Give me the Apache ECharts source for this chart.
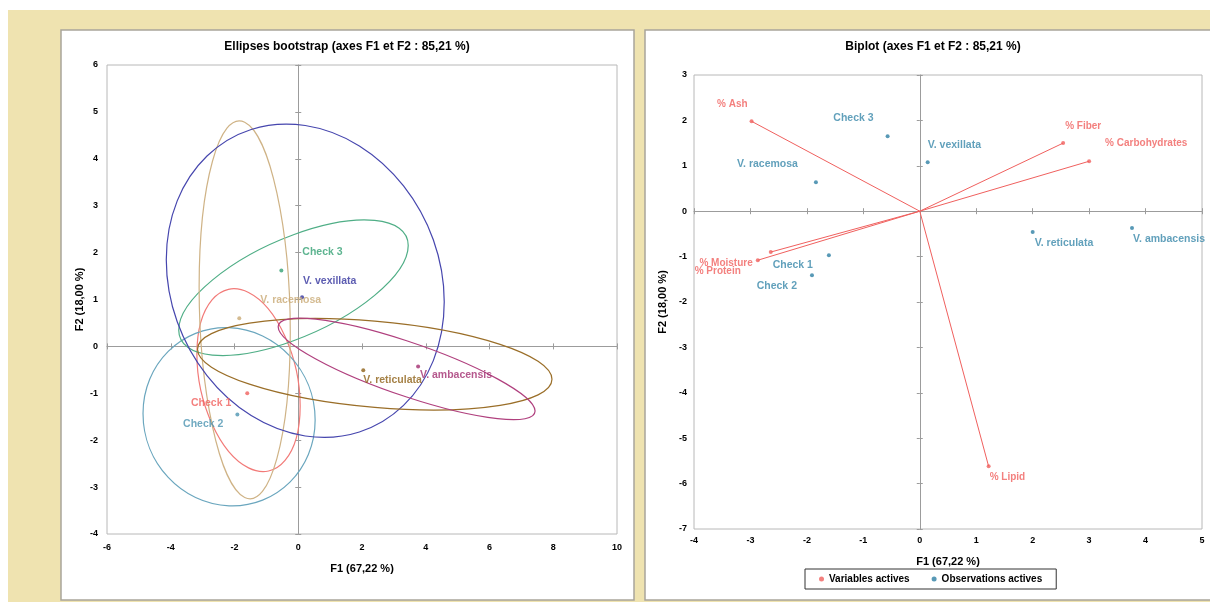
<!DOCTYPE html>
<html><head><meta charset="utf-8">
<script src="https://cdn.jsdelivr.net/npm/echarts@6/dist/echarts.min.js"></script>
<style>html,body{margin:0;padding:0;background:#fff}#c{width:1210px;height:602px}</style>
</head><body><div id="c"></div>
<script>
// ================= DATA =================
const obsNames = ['Check 1','Check 2','Check 3','V. racemosa','V. vexillata','V. reticulata','V. ambacensis'];
// bootstrap centres (left chart)
const bootF1 = [-1.60,-1.91,-0.53,-1.85,0.12,2.04,3.76];
const bootF2 = [-1.00,-1.45,1.62,0.60,1.05,-0.51,-0.43];
// bootstrap ellipses:
// centre, right-most point of the outline, and the outline's upper crossing of the vertical through the centre
const ellCentre = [[-1.56,-0.72],[-2.17,-1.50],[-0.15,1.25],[-1.68,0.78],[0.22,1.40],[2.40,-0.38],[3.40,-0.48]];
const ellRight  = [[0.06,-1.27],[0.53,-1.57],[3.45,2.15],[-0.25,0.30],[4.58,0.95],[7.96,-0.70],[7.43,-1.38]];
const ellTop    = [[-1.56,1.15],[-2.17,0.40],[-0.15,2.38],[-1.68,4.78],[0.22,4.71],[2.40,0.54],[3.40,0.12]];

// biplot observations
const biObsF1 = [-1.61,-1.91,-0.57,-1.84,0.14,2.00,3.76];
const biObsF2 = [-0.97,-1.41,1.65,0.64,1.08,-0.46,-0.37];
// biplot variables
const varNames = ['% Ash','% Fiber','% Carbohydrates','% Moisture','% Protein','% Lipid'];
const varF1 = [-2.98,2.54,3.00,-2.64,-2.87,1.22];
const varF2 = [1.98,1.50,1.10,-0.90,-1.08,-5.62];

// tick labels
const bootTicksX = [-6,-4,-2,0,2,4,6,8,10];
const bootTicksY = [-4,-3,-2,-1,0,1,2,3,4,5,6];
const biTicksX = [-4,-3,-2,-1,0,1,2,3,4,5];
const biTicksY = [-7,-6,-5,-4,-3,-2,-1,0,1,2,3];

// ================= STYLE =================
const obsColors = ['#F0605E','#4E95B2','#34A174','#C9AA76','#33339E','#8E6118','#A32E70'];
const lineColors = ['#F27A78','#6AA6BE','#4FAE86','#CFB386','#4646AE','#9A6E28','#B0407E'];
const bootLabelPos = [['left',-9,10],['left',-7,10],['right',14,-18],['right',14,-18],['right',-6,-16],['right',-7,10],['right',-5,9]];
const biObsLabelPos = [['left',-9,10],['left',-8,11],['left',-7,-18],['left',-11,-18],['right',-7,-17],['right',-5,11],['right',-6,11]];
const varLabelPos = [['left',3,-17],['right',-5,-17],['right',9,-18],['left',-11,11],['left',-10,11],['right',-6,11]];
const SANS = "'Liberation Sans',Arial,sans-serif";
const VAR_RED = '#F0605E';
const OBS_TEAL = '#2E80A4';
const OBS_LABEL = '#3A88AA';
const AXIS_GREY = '#9C9C9C';

const chart = echarts.init(document.getElementById('c'), null, {renderer: 'canvas'});

function labelAxisX(grid, ticks, margin, name, nameGap) {
  return {type:'value', gridIndex:grid, position:'bottom', min:ticks[0], max:ticks[ticks.length-1], interval:ticks[1]-ticks[0],
    axisLine:{show:false, onZero:false}, axisTick:{show:false}, splitLine:{show:false},
    axisLabel:{color:'#000', fontSize:9, fontWeight:'bold', fontFamily:SANS, margin:margin},
    name:name, nameLocation:'middle', nameGap:nameGap,
    nameTextStyle:{color:'#000', fontSize:11, fontWeight:'bold', fontFamily:SANS}};
}
function labelAxisY(grid, ticks, margin, name, nameGap) {
  return {type:'value', gridIndex:grid, position:'left', min:ticks[0], max:ticks[ticks.length-1], interval:ticks[1]-ticks[0],
    axisLine:{show:false, onZero:false}, axisTick:{show:false}, splitLine:{show:false},
    axisLabel:{color:'#000', fontSize:9, fontWeight:'bold', fontFamily:SANS, margin:margin},
    name:name, nameLocation:'middle', nameGap:nameGap, nameRotate:90,
    nameTextStyle:{color:'#000', fontSize:11, fontWeight:'bold', fontFamily:SANS}};
}
function zeroAxis(dim, grid, ticks, zeroIdx, inside, showLine) {
  return {type:'value', gridIndex:grid, position: dim==='x' ? 'bottom' : 'left',
    min:ticks[0], max:ticks[ticks.length-1], interval:ticks[1]-ticks[0],
    axisLine:{show:showLine, onZero:true, onZeroAxisIndex:zeroIdx, lineStyle:{color:AXIS_GREY, width:1}},
    axisTick:{show:true, inside:inside, length:3, lineStyle:{color:AXIS_GREY}},
    axisLabel:{show:false}, splitLine:{show:false}};
}

const K = 0.5523;
function ellipsePath(C, U, V) {
  const u = [U[0]-C[0], U[1]-C[1]], v = [V[0]-C[0], V[1]-C[1]];
  const P = function(a, b){ return (C[0] + a[0] + b[0]).toFixed(2) + ' ' + (C[1] + a[1] + b[1]).toFixed(2); };
  const s = function(k, w){ return [w[0]*k, w[1]*k]; };
  const zero = [0,0];
  const nu = s(-1,u), nv = s(-1,v);
  return 'M' + P(u, zero) +
    ' C' + P(u, s(K,v)) + ' ' + P(v, s(K,u)) + ' ' + P(v, zero) +
    ' C' + P(v, s(-K,u)) + ' ' + P(nu, s(K,v)) + ' ' + P(nu, zero) +
    ' C' + P(nu, s(-K,v)) + ' ' + P(nv, s(-K,u)) + ' ' + P(nv, zero) +
    ' C' + P(nv, s(K,u)) + ' ' + P(u, s(-K,v)) + ' ' + P(u, zero) + ' Z';
}

const series = [];
// ellipses
series.push({type:'custom', name:'ellipses', xAxisIndex:0, yAxisIndex:0, silent:true, z:3,
  data: ellCentre.map(function(c,i){ return [c[0], c[1], ellRight[i][0], ellRight[i][1], ellTop[i][0], ellTop[i][1]]; }),
  encode:{x:[0,2,4], y:[1,3,5]},
  renderItem: function(params, api){
    const i = params.dataIndex;
    const C = api.coord([api.value(0), api.value(1)]);
    const U = api.coord([api.value(2), api.value(3)]);
    const V = api.coord([api.value(4), api.value(5)]);
    return {type:'path', shape:{pathData: ellipsePath(C, U, V)},
      style:{fill:null, stroke:lineColors[i], lineWidth:1.2}};
  }});
// bootstrap centres
series.push({type:'scatter', name:'boot', xAxisIndex:0, yAxisIndex:0, symbolSize:4, z:5, silent:true,
  data: obsNames.map(function(n,i){
    const lp = bootLabelPos[i];
    return {name:n, value:[bootF1[i], bootF2[i]], itemStyle:{color:obsColors[i]},
      label:{show:true, formatter:n, position:lp[0], offset:[lp[1],lp[2]], color:obsColors[i], fontSize:10.5, fontWeight:'bold', fontFamily:SANS}};
  })});
// biplot vectors
series.push({type:'lines', name:'vectors', coordinateSystem:'cartesian2d', xAxisIndex:3, yAxisIndex:3, silent:true, z:3,
  lineStyle:{color:VAR_RED, width:1, opacity:1},
  data: varNames.map(function(n,i){ return {coords:[[0,0],[varF1[i], varF2[i]]]}; })});
series.push({type:'scatter', name:'Variables actives', xAxisIndex:3, yAxisIndex:3, symbolSize:4, z:5, silent:true,
  itemStyle:{color:VAR_RED},
  data: varNames.map(function(n,i){
    const lp = varLabelPos[i];
    return {name:n, value:[varF1[i], varF2[i]],
      label:{show:true, formatter:n, position:lp[0], offset:[lp[1],lp[2]], color:VAR_RED, fontSize:10, fontWeight:'bold', fontFamily:SANS}};
  })});
series.push({type:'scatter', name:'Observations actives', xAxisIndex:3, yAxisIndex:3, symbolSize:4, z:5, silent:true,
  itemStyle:{color:OBS_TEAL},
  data: obsNames.map(function(n,i){
    const lp = biObsLabelPos[i];
    return {name:n, value:[biObsF1[i], biObsF2[i]],
      label:{show:true, formatter:n, position:lp[0], offset:[lp[1],lp[2]], color:OBS_LABEL, fontSize:10.5, fontWeight:'bold', fontFamily:SANS}};
  })});

const option = {
  backgroundColor:'#ffffff',
  animation:false,
  graphic:{elements:[
    {type:'rect', z:-100, shape:{x:8, y:10, width:1210, height:600}, style:{fill:'#EFE3B0'}},
    {type:'rect', z:-99, shape:{x:61, y:30, width:573, height:570}, style:{fill:'#ffffff', stroke:'#A9A59A', lineWidth:1.5}},
    {type:'rect', z:-99, shape:{x:645, y:30, width:580, height:570}, style:{fill:'#ffffff', stroke:'#A9A59A', lineWidth:1.5}}
  ]},
  title:[
    {text:'Ellipses bootstrap (axes F1 et F2 : 85,21 %)', left:347, top:41, padding:0, textAlign:'center',
     textStyle:{fontSize:12, fontWeight:'bold', color:'#000', fontFamily:SANS}},
    {text:'Biplot (axes F1 et F2 : 85,21 %)', left:933, top:41, padding:0, textAlign:'center',
     textStyle:{fontSize:12, fontWeight:'bold', color:'#000', fontFamily:SANS}}
  ],
  legend:{data:['Variables actives','Observations actives'], left:805, top:569, width:240,
    icon:'circle', itemWidth:5, itemHeight:5, itemGap:22, padding:[5,14],
    borderColor:'#333', borderWidth:1, backgroundColor:'#fff',
    textStyle:{fontSize:10, fontWeight:'bold', color:'#000', fontFamily:SANS}},
  grid:[
    {left:107, top:65, width:510, height:469, show:true, borderColor:'#B8B8B8', borderWidth:1, backgroundColor:'#fff'},
    {left:694, top:75, width:508, height:454, show:true, borderColor:'#B8B8B8', borderWidth:1, backgroundColor:'#fff'}
  ],
  xAxis:[
    labelAxisX(0, bootTicksX, 9, 'F1 (67,22 %)', 29),
    zeroAxis('x', 0, bootTicksX, 0, false, true),
    zeroAxis('x', 0, bootTicksX, 0, true, false),
    labelAxisX(1, biTicksX, 7, 'F1 (67,22 %)', 27),
    zeroAxis('x', 1, biTicksX, 3, false, true),
    zeroAxis('x', 1, biTicksX, 3, true, false)
  ],
  yAxis:[
    labelAxisY(0, bootTicksY, 9, 'F2 (18,00 %)', 22),
    zeroAxis('y', 0, bootTicksY, 0, false, true),
    zeroAxis('y', 0, bootTicksY, 0, true, false),
    labelAxisY(1, biTicksY, 7, 'F2 (18,00 %)', 26),
    zeroAxis('y', 1, biTicksY, 3, false, true),
    zeroAxis('y', 1, biTicksY, 3, true, false)
  ],
  series: series
};
chart.setOption(option);
</script></body></html>
